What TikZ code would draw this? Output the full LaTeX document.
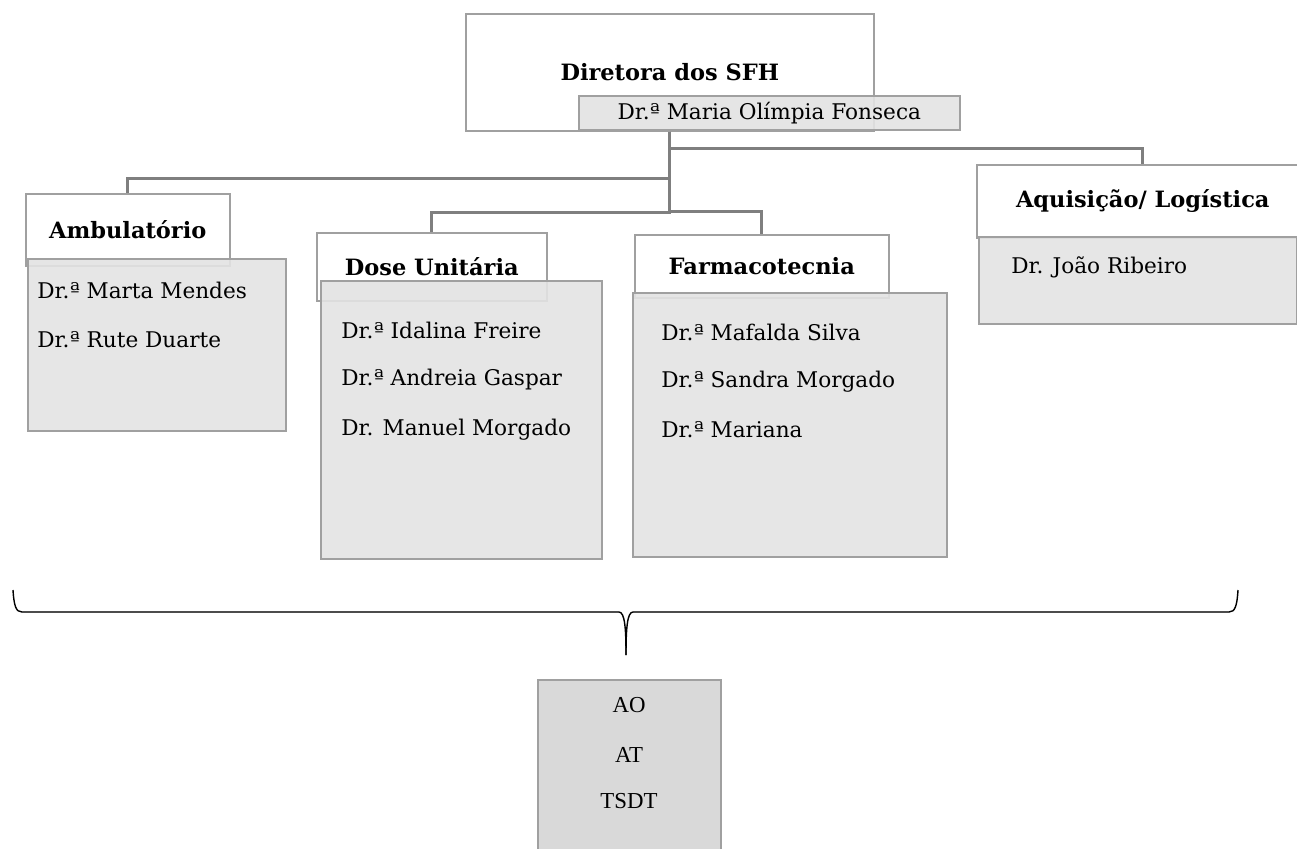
\documentclass[tikz,border=0pt]{standalone}
\usepackage{fontspec}
\setmainfont{DejaVu Serif}
\newfontfamily\timesfont{Liberation Serif}
\usepackage{tikz}
\usetikzlibrary{positioning}
\definecolor{borda}{HTML}{A0A0A0}
\definecolor{linha}{HTML}{7F7F7F}
\definecolor{cinza}{HTML}{E3E3E3}
\definecolor{cinzaesc}{HTML}{D9D9D9}
\tikzstyle{headbox} = [rectangle, draw=borda, line width=0.9pt, fill=white, anchor=north west, inner sep=0pt, font=\fontsize{12.8}{15}\selectfont\bfseries]
\tikzstyle{listbox} = [rectangle, draw=borda, line width=0.9pt, fill=cinza, fill opacity=0.9, anchor=north west, inner sep=0pt]
\tikzstyle{nome} = [anchor=west, inner sep=0pt, font=\fontsize{12.3}{14}\selectfont]
\tikzstyle{sigla} = [inner sep=0pt, font=\timesfont\fontsize{13}{15}\selectfont]
\tikzstyle{line} = [draw=linha, line width=1.6pt]
\tikzstyle{brace} = [draw=black, line width=0.8pt]

\begin{document}
\begin{tikzpicture}[x=0.02cm, y=-0.02cm]
			\useasboundingbox (0, 0) rectangle (1297, 848);
			% direcao
			\node [headbox, minimum width=8.16cm, minimum height=2.34cm] (dir) at (465, 13) {Diretora dos SFH};
			\node [listbox, minimum width=7.62cm, minimum height=0.68cm, text opacity=1, font=\fontsize{12.3}{14}\selectfont] (dirnome) at (578, 95) {Dr.ª Maria Olímpia Fonseca};
			
			% sectores
			\node [headbox, minimum width=4.08cm, minimum height=1.44cm] (amb) at (25, 193) {Ambulatório};
			\node [listbox, minimum width=5.16cm, minimum height=3.44cm] (ambl) at (27, 258) {};
			\node [headbox, minimum width=4.6cm, minimum height=1.36cm] (dose) at (316, 232) {Dose Unitária};
			\node [listbox, minimum width=5.62cm, minimum height=5.56cm] (dosel) at (320, 280) {};
			\node [headbox, minimum width=5.08cm, minimum height=1.26cm] (farm) at (634, 234) {Farmacotecnia};
			\node [listbox, minimum width=6.28cm, minimum height=5.28cm] (farml) at (632, 292) {};
			\node [headbox, minimum width=6.64cm, minimum height=1.46cm] (aq) at (976, 164) {Aquisição/ Logística};
			\node [listbox, minimum width=6.36cm, minimum height=1.74cm] (aql) at (978, 236) {};
			
			\node [nome] (amb1) at (37, 290) {Dr.ª Marta Mendes};
			\node [nome] (amb2) at (37, 340) {Dr.ª Rute Duarte};
			\node [nome] (dose1) at (341, 330) {Dr.ª Idalina Freire};
			\node [nome] (dose2) at (341, 380) {Dr.ª Andreia Gaspar};
			\node [nome] (dose3) at (341, 430) {Dr. Manuel Morgado};
			\node [nome] (farm1) at (661, 332) {Dr.ª Mafalda Silva};
			\node [nome] (farm2) at (661, 382) {Dr.ª Sandra Morgado};
			\node [nome] (farm3) at (661, 430) {Dr.ª Mariana};
			\node [nome] (aq1) at (1011, 267) {Dr. João Ribeiro};
			
			\path [line] (dir.south) -- ++(0, 17) -| (aq.north);
			\path [line] (dir.south) -- ++(0, 47) -| (amb.north);
			\path [line] (dir.south) -- ++(0, 81) -| (dose.north);
			\path [line] (dir.south) -- ++(0, 80) -| (farm.north);
			
			% chaveta
			\coordinate (bl) at (13, 590);
			\coordinate (br) at (1238, 590);
			\coordinate (bt) at (626, 655);
			\path [brace] (bl) .. controls (14, 606) and (16, 612) .. (22, 612);
			\path [brace] (br) .. controls (1237, 606) and (1235, 612) .. (1229, 612);
			\path [draw=black!70, line width=0.8pt] (22, 612) -- (619, 612);
			\path [draw=black!70, line width=0.8pt] (633, 612) -- (1229, 612);
			\path [brace] (619, 612) .. controls (625, 612) and (626, 630) .. (bt);
			\path [brace] (633, 612) .. controls (627, 612) and (626, 630) .. (bt);
			
			% tecnicos
			\node [listbox, fill=cinzaesc, fill opacity=1, minimum width=3.66cm, minimum height=3.6cm] (tec) at (537, 679) {};
			\node [sigla] (ao) at (629, 705) {AO};
			\node [sigla] (at) at (629, 755) {AT};
			\node [sigla] (tsdt) at (629, 801) {TSDT};
\end{tikzpicture}
\end{document}
